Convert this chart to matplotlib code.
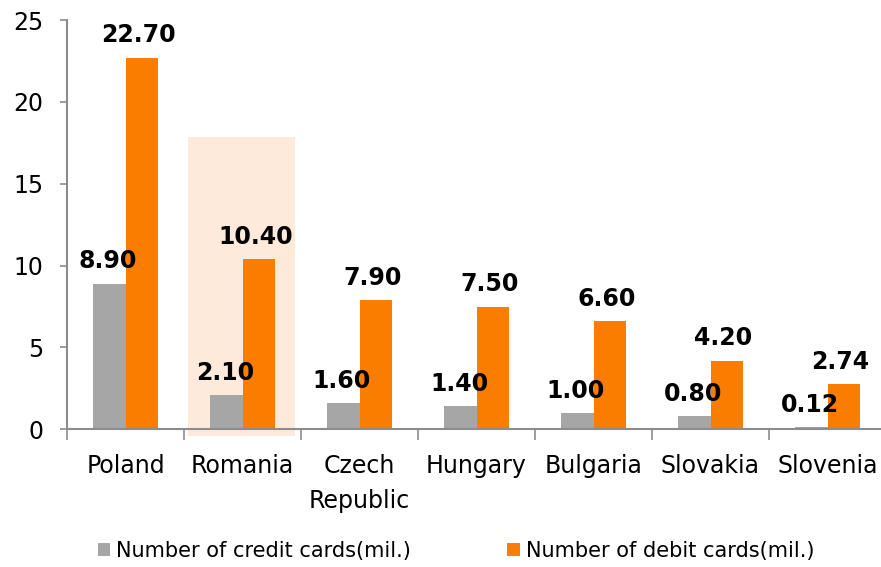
import matplotlib
matplotlib.use("Agg")
import matplotlib.pyplot as plt
from matplotlib.patches import Rectangle
import numpy as np

categories = ["Poland", "Romania", "Czech\nRepublic", "Hungary", "Bulgaria", "Slovakia", "Slovenia"]
credit = [8.90, 2.10, 1.60, 1.40, 1.00, 0.80, 0.12]
debit = [22.70, 10.40, 7.90, 7.50, 6.60, 4.20, 2.74]
credit_labels = ["8.90", "2.10", "1.60", "1.40", "1.00", "0.80", "0.12"]
debit_labels = ["22.70", "10.40", "7.90", "7.50", "6.60", "4.20", "2.74"]
series_names = ["Number of credit cards(mil.)", "Number of debit cards(mil.)"]
yticks = [0, 5, 10, 15, 20, 25]

GRAY = "#A6A6A6"
ORANGE = "#FA7D00"
HILITE = "#FDEADA"
AXC = "#8C8C8C"

W, H = 881, 567
fig = plt.figure(figsize=(W / 100, H / 100), dpi=100)
left_px, right_px = 67, 881
bottom_px, top_px = 567 - 429.3, 567 - 20
ax = fig.add_axes([left_px / W, bottom_px / H, (right_px - left_px) / W, (top_px - bottom_px) / H])

cat_w = 117.0
x = np.arange(len(categories))
bw = 0.28

# highlight for Romania
ax.add_patch(Rectangle((0.535, -0.43), 0.915, 17.87 + 0.43, facecolor=HILITE, edgecolor="none",
                       zorder=0, clip_on=False))

b1 = ax.bar(x - bw / 2, credit, bw, color=GRAY, zorder=2, label=series_names[0])
b2 = ax.bar(x + bw / 2, debit, bw, color=ORANGE, zorder=2, label=series_names[1])

for xi, v, s in zip(x, credit, credit_labels):
    ax.annotate(s, (xi - bw / 2 - 0.01, v), xytext=(0, 7.5), textcoords="offset points",
                ha="center", va="bottom", fontsize=17, fontweight="bold", zorder=3)
for xi, v, s in zip(x, debit, debit_labels):
    ax.annotate(s, (xi + bw / 2 - 0.03, v), xytext=(0, 7.5), textcoords="offset points",
                ha="center", va="bottom", fontsize=17, fontweight="bold", zorder=3)

ax.set_xlim(-0.5, -0.5 + (right_px - left_px) / cat_w)
ax.set_ylim(0, 25)
ax.set_yticks(yticks)
ax.set_yticklabels([str(t) for t in yticks], fontsize=17)

ax.set_xticks(x)
ax.set_xticklabels(categories, fontsize=17, linespacing=1.55)
ax.set_xticks(np.arange(len(categories)) - 0.5, minor=True)
ax.tick_params(axis="x", which="major", length=0, pad=18)
ax.tick_params(axis="x", which="minor", length=8, width=1.2, color=AXC, direction="out")
ax.tick_params(axis="y", length=5, width=1.2, color=AXC, direction="out", pad=12)

for s in ["top", "right"]:
    ax.spines[s].set_visible(False)
ax.spines["left"].set_color(AXC)
ax.spines["bottom"].set_color(AXC)
ax.spines["left"].set_linewidth(1.5)
ax.spines["bottom"].set_linewidth(1.5)
ax.spines["bottom"].set_zorder(4)

fig.legend(handles=[b1, b2], labels=series_names, loc="center", ncol=2,
           bbox_to_anchor=(456 / W, 1 - 551 / H), frameon=False, fontsize=15,
           handlelength=0.6, handleheight=0.6, handletextpad=0.3, columnspacing=4.6,
           borderaxespad=0, borderpad=0)

fig.savefig("out.png", dpi=100)
